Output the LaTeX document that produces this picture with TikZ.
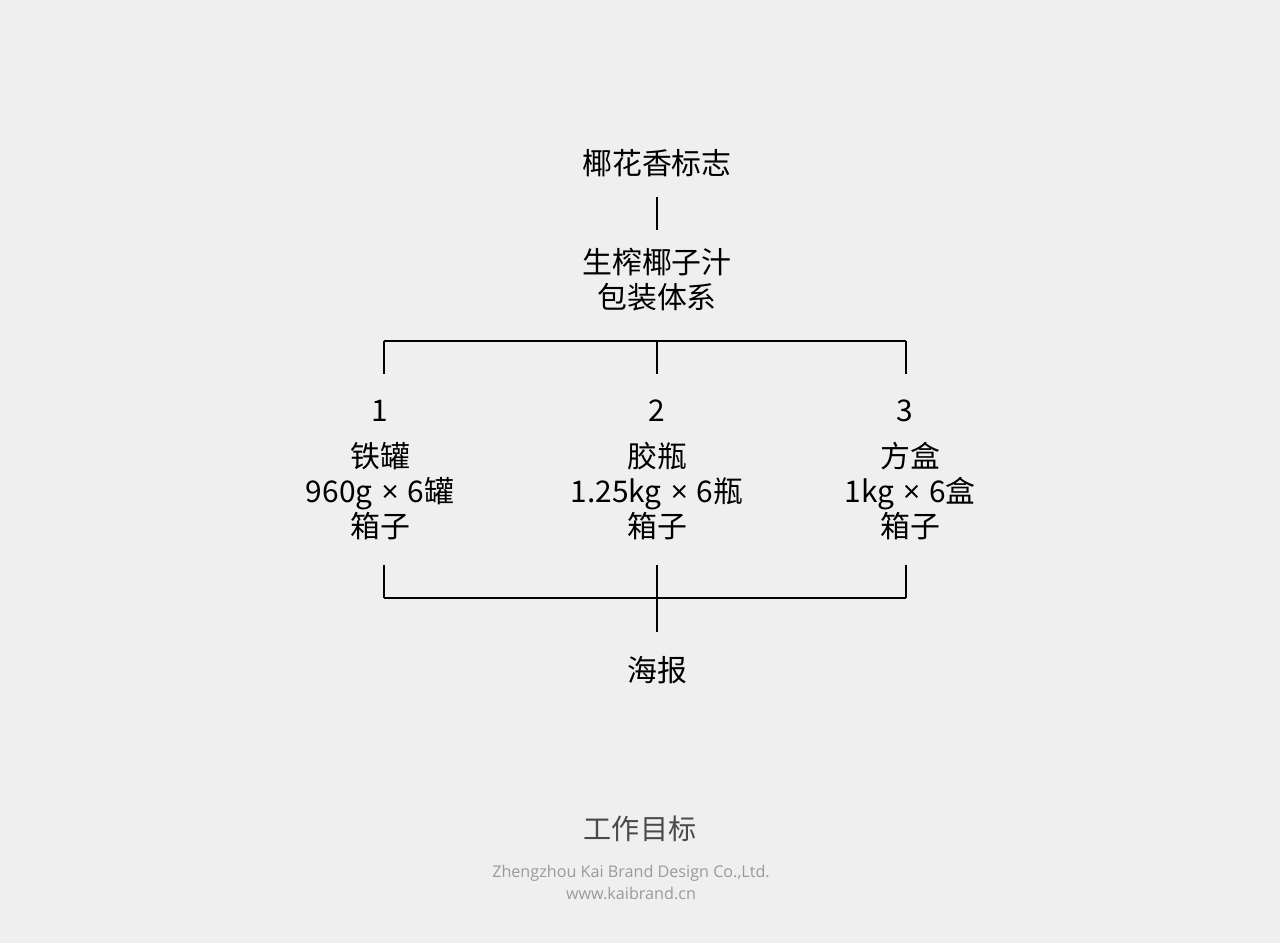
\documentclass[tikz,border=0pt]{standalone}
\usepackage{fontspec}
\setmainfont{Noto Sans CJK SC}
\newfontfamily\footfont{Open Sans}
\usetikzlibrary{positioning}
\definecolor{bggray}{HTML}{EFEFEF}
\definecolor{titlegray}{HTML}{4A4A4A}
\definecolor{footgray}{HTML}{9A9A9A}
\newcommand{\packby}{\hspace{0.3em}{\footfont ×}\hspace{0.3em}}
\tikzset{
  label/.style={font=\fontsize{17}{19.9}\selectfont, align=center, inner sep=0pt},
  link/.style={line width=0.7pt, black}
}
\begin{document}
\begin{tikzpicture}[x=0.02cm, y=-0.02cm]
\fill[bggray] (0,0) rectangle (1280,943);
\useasboundingbox (0,0) rectangle (1280,943);
% top of the tree
\node[label] (logo) at (657,163) {椰花香标志};
\node[label] (system) at (657,280) {生榨椰子汁\\包装体系};
\coordinate (logoend) at (657,197);
\coordinate (systop) at (657,230);
\draw[link] (logoend) -- (systop);
% upper bracket
\coordinate (ul) at (384,341);
\coordinate (um) at (657,341);
\coordinate (ur) at (906,341);
\draw[link] (ul) -- (um) -- (ur);
\draw[link] (ul) -- ++(0,33);
\draw[link] (um) -- ++(0,33);
\draw[link] (ur) -- ++(0,33);
% three packages
\node[label] (numa) at (380,411) {1};
\node[label] (numb) at (657,411) {2};
\node[label] (numc) at (905,411) {3};
\node[label] (cana) at (380,491) {铁罐\\960g\packby6罐\\箱子};
\node[label] (canb) at (657,491) {胶瓶\\1.25kg\packby6瓶\\箱子};
\node[label] (canc) at (910,491) {方盒\\1kg\packby6盒\\箱子};
% lower bracket
\coordinate (ll) at (384,598);
\coordinate (lm) at (657,598);
\coordinate (lr) at (906,598);
\draw[link] (ll) -- (lm) -- (lr);
\draw[link] (ll) -- ++(0,-33);
\draw[link] (lr) -- ++(0,-33);
\draw[link] (657,565) -- (657,632);
\node[label] (poster) at (657,670) {海报};
% footer
\node[label, font=\fontsize{16}{19}\selectfont, text=titlegray] (goal) at (640,829) {工作目标};
\node[inner sep=0pt, font=\footfont\fontsize{9.2}{12.5}\selectfont, text=footgray, align=center] (firm) at (631,882) {Zhengzhou Kai Brand Design Co.,Ltd.\\www.kaibrand.cn};
\end{tikzpicture}
\end{document}
